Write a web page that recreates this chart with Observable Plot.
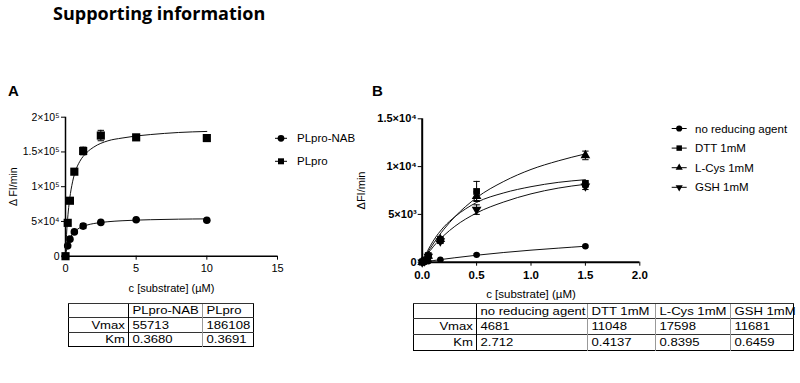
<!DOCTYPE html>
<html><head><meta charset="utf-8">
<script src="https://cdn.jsdelivr.net/npm/d3@7"></script>
<script src="https://cdn.jsdelivr.net/npm/@observablehq/plot@0.6"></script>
<style>
body{margin:0;width:800px;height:383px;position:relative;background:#fff;overflow:hidden;font-family:"Liberation Sans",Arial,sans-serif;color:#000}
.abs{position:absolute}
#title{left:53px;top:4px;font-family:"Open Sans",Lato,sans-serif;font-weight:700;font-size:18px;line-height:1;white-space:nowrap}
.plabel{font-weight:700;font-size:15px;line-height:1}
table.kin{position:absolute;border-collapse:collapse;table-layout:fixed;border:1.6px solid #000;font-size:11.3px}
table.kin td{padding:0;height:14px;line-height:13px;border-top:1px solid #333;border-left:1px solid #999;white-space:nowrap;overflow:visible}
table.kin tr:first-child td{border-top:none}
table.kin td:first-child{border-left:none;text-align:right;padding-right:3px}
table.kin td:nth-child(2){border-left:1.6px solid #000}
table.kin td span{display:inline-block;transform:scaleX(1.16);transform-origin:left center;padding-left:3px}
table.kin td:first-child span{transform-origin:right center;padding-left:0}
#chartB g[aria-label="x-axis tick label"] text, #chartB g[aria-label="y-axis tick label"] text{font-weight:bold}
#chartB g[aria-label="x-axis label"], #chartB g[aria-label="y-axis label"], #chartB g[aria-label="x-axis label"] text, #chartB g[aria-label="y-axis label"] text{font-weight:normal}
</style></head>
<body>
<div id="title" class="abs">Supporting information</div>
<div class="abs plabel" style="left:8px;top:83px">A</div>
<div class="abs plabel" style="left:372px;top:83px">B</div>
<div id="chartA" class="abs" style="left:0;top:100px"></div>
<div id="chartB" class="abs" style="left:380px;top:100px"></div>
<svg id="legA" class="abs" style="left:268px;top:125px" width="100" height="50"></svg>
<svg id="legB" class="abs" style="left:665px;top:118px" width="135" height="80"></svg>
<script>
// ---------- Panel A data ----------
const xA = [0, 0.156, 0.3125, 0.625, 1.25, 2.5, 5, 10];
const nabMean = [0, 14900, 24500, 35000, 43300, 48600, 52400, 51700];
const nabSD = [400, 1200, 1200, 1800, 3600, 1200, 1000, 900];
const plproMean = [0, 48000, 79800, 121600, 151400, 173600, 171000, 170000];
const plproSD = [400, 1500, 2000, 2500, 5500, 7500, 4000, 5000];
const fitXA = [0, 0.05, 0.1, 0.2, 0.3, 0.5, 0.75, 1, 1.5, 2, 3, 4, 5, 6, 8, 10];
const nabFit = [0, 6600, 12000, 19600, 25000, 32000, 37300, 40700, 44700, 47000, 49600, 51000, 51900, 52500, 53300, 53700];
const plproFit = [0, 22000, 40000, 65000, 83000, 107000, 125000, 136000, 149000, 157000, 166000, 170000, 173000, 175000, 178000, 179500];
const xTicksA = [0, 5, 10, 15];
const yTicksA = [0, 50000, 100000, 150000, 200000];
const yTickLabelsA = ["0", "5×10⁴", "1×10⁵", "1.5×10⁵", "2×10⁵"];
const seriesA = ["PLpro-NAB", "PLpro"];

// ---------- Panel B data ----------
const xB = [0, 0.0185, 0.0556, 0.1667, 0.5, 1.5];
const noneMean = [0, 20, 100, 250, 770, 1675];
const noneSD = [40, 40, 50, 60, 90, 100];
const dttMean = [0, 150, 700, 2330, 7400, 8200];
const dttSD = [60, 100, 200, 300, 1050, 350];
const cysMean = [0, 130, 650, 2400, 6900, 11170];
const cysSD = [60, 100, 150, 250, 450, 450];
const gshMean = [0, 120, 600, 2200, 5500, 7950];
const gshSD = [60, 100, 150, 250, 500, 350];
const fitXB = [0, 0.05, 0.1, 0.2, 0.3, 0.5, 0.75, 1, 1.25, 1.5];
const noneFit = [0, 85, 165, 320, 465, 730, 1015, 1260, 1470, 1670];
const dttFit = [0, 1200, 2200, 3700, 4750, 6250, 7250, 7900, 8350, 8630];
const cysFit = [0, 1000, 1900, 3450, 4750, 6750, 8450, 9700, 10600, 11330];
const gshFit = [0, 850, 1600, 2800, 3750, 5150, 6300, 7150, 7750, 8150];
const xTicksB = [0, 0.5, 1, 1.5, 2];
const xTickLabelsB = ["0.0", "0.5", "1.0", "1.5", "2.0"];
const yTicksB = [0, 5000, 10000, 15000];
const yTickLabelsB = ["0", "5×10³", "1×10⁴", "1.5×10⁴"];
const seriesB = ["no reducing agent", "DTT 1mM", "L-Cys 1mM", "GSH 1mM"];

// ---------- Tables ----------
const tabAHeader = ["", "PLpro-NAB", "PLpro"];
const tabARows = [["Vmax", "55713", "186108"], ["Km", "0.3680", "0.3691"]];
const tabBHeader = ["", "no reducing agent", "DTT 1mM", "L-Cys 1mM", "GSH 1mM"];
const tabBRows = [["Vmax", "4681", "11048", "17598", "11681"], ["Km", "2.712", "0.4137", "0.8395", "0.6459"]];

const capSym = {draw(ctx) { ctx.moveTo(-3.2, 0); ctx.lineTo(3.2, 0); }};

function seriesMarks(xs, mean, sd, fitX, fit, symbol, r, rotate) {
  const pts = xs.map((x, i) => ({x, y: mean[i], lo: mean[i] - sd[i], hi: mean[i] + sd[i]}));
  const line = fitX.map((x, i) => ({x, y: fit[i]}));
  return [
    Plot.line(line, {x: "x", y: "y", stroke: "#111", strokeWidth: 1, curve: "monotone-x"}),
    Plot.ruleX(pts, {x: "x", y1: "lo", y2: "hi", stroke: "#000", strokeWidth: 1}),
    Plot.dot(pts, {x: "x", y: "hi", symbol: capSym, fill: "none", stroke: "#000", strokeWidth: 1}),
    Plot.dot(pts, {x: "x", y: "lo", symbol: capSym, fill: "none", stroke: "#000", strokeWidth: 1}),
    Plot.dot(pts, {x: "x", y: "y", symbol, r, fill: "#000", stroke: "none", rotate: rotate || 0})
  ];
}

const chartA = Plot.plot({
  width: 300, height: 200,
  marginLeft: 65, marginRight: 23, marginTop: 16.7, marginBottom: 44.3,
  style: {fontFamily: "'Liberation Sans', Arial, sans-serif", fontSize: "10.5px", background: "transparent", overflow: "visible"},
  x: {domain: [0, 15]},
  y: {domain: [0, 200000]},
  marks: [
    Plot.axisX(xTicksA, {tickSize: 4, tickPadding: 4, tickFormat: d => String(d), label: "c [substrate] (µM)", labelAnchor: "center", labelOffset: 36, labelArrow: "none", fontSize: 11}),
    Plot.axisY(yTicksA, {tickSize: 4, tickPadding: 2, tickFormat: (d, i) => yTickLabelsA[i], label: "Δ FI/min", labelAnchor: "center", labelOffset: 56, labelArrow: "none", fontSize: 10.5}),
    Plot.ruleX([0], {stroke: "#000", strokeWidth: 1.5}),
    Plot.ruleY([0], {stroke: "#000", strokeWidth: 1.5}),
    ...seriesMarks(xA, nabMean, nabSD, fitXA, nabFit, "circle", 3.8),
    ...seriesMarks(xA, plproMean, plproSD, fitXA, plproFit, "square", 4.6)
  ]
});
document.getElementById("chartA").append(chartA);

const chartB = Plot.plot({
  width: 280, height: 200,
  marginLeft: 41.7, marginRight: 20.7, marginTop: 18.3, marginBottom: 38.3,
  style: {fontFamily: "'Liberation Sans', Arial, sans-serif", fontSize: "10.5px", background: "transparent", overflow: "visible"},
  x: {domain: [0, 2]},
  y: {domain: [0, 15000]},
  marks: [
    Plot.axisX(xTicksB, {tickSize: 4, tickPadding: 5, tickFormat: (d, i) => xTickLabelsB[i], label: "c [substrate] (µM)", labelAnchor: "center", labelOffset: 36, labelArrow: "none", fontSize: 11.5}),
    Plot.axisY(yTicksB, {tickSize: 4, tickPadding: 1.5, tickFormat: (d, i) => yTickLabelsB[i], label: "ΔFI/min", labelAnchor: "center", labelOffset: 65, labelArrow: "none", fontSize: 11}),
    Plot.ruleX([0], {stroke: "#000", strokeWidth: 2}),
    Plot.ruleY([0], {stroke: "#000", strokeWidth: 2}),
    ...seriesMarks(xB, noneMean, noneSD, fitXB, noneFit, "circle", 3.2),
    ...seriesMarks(xB, gshMean, gshSD, fitXB, gshFit, "triangle", 3.6, 180),
    ...seriesMarks(xB, cysMean, cysSD, fitXB, cysFit, "triangle", 3.6),
    ...seriesMarks(xB, dttMean, dttSD, fitXB, dttFit, "square", 3.8)
  ]
});
document.getElementById("chartB").append(chartB);

// ---------- Legends ----------
function drawLegend(id, labels, syms, rots, sizes, y0, gap, lineX1, lineX2, textX, fs) {
  const svg = d3.select("#" + id);
  labels.forEach((lab, i) => {
    const y = y0 + i * gap;
    const cx = (lineX1 + lineX2) / 2;
    svg.append("line").attr("x1", lineX1).attr("x2", lineX2).attr("y1", y).attr("y2", y).attr("stroke", "#000").attr("stroke-width", 1);
    svg.append("path").attr("d", d3.symbol(syms[i], sizes[i])()).attr("transform", `translate(${cx},${y}) rotate(${rots[i]})`).attr("fill", "#000");
    svg.append("text").attr("x", textX).attr("y", y).attr("dy", "0.36em").attr("font-size", fs).attr("font-family", "'Liberation Sans', Arial, sans-serif").text(lab);
  });
}
drawLegend("legA", seriesA, [d3.symbolCircle, d3.symbolSquare], [0, 0], [36, 36], 13.3, 23, 7, 19, 29, 11.5);
drawLegend("legB", seriesB, [d3.symbolCircle, d3.symbolSquare, d3.symbolTriangle, d3.symbolTriangle], [0, 0, 0, 180], [30, 30, 22, 22], 10.5, 19.6, 6.7, 21.7, 30, 11.5);

// ---------- Tables ----------
function buildTable(header, rows, left, top, widths, rowH) {
  const t = document.createElement("table");
  t.className = "kin";
  t.style.left = left + "px"; t.style.top = top + "px";
  t.style.width = widths.reduce((a, b) => a + b, 0) + "px";
  const cg = document.createElement("colgroup");
  widths.forEach(w => { const c = document.createElement("col"); c.style.width = w + "px"; cg.append(c); });
  t.append(cg);
  [header, ...rows].forEach(r => {
    const tr = document.createElement("tr");
    r.forEach(v => { const td = document.createElement("td"); td.style.height = rowH + "px"; const s = document.createElement("span"); s.textContent = v; td.append(s); tr.append(td); });
    t.append(tr);
  });
  document.body.append(t);
}
buildTable(tabAHeader, tabARows, 67.7, 302.7, [60.6, 73.4, 51.6], 13.6);
buildTable(tabBHeader, tabBRows, 413.3, 302.7, [62.7, 110.7, 68.3, 75, 62.7], 14.8);
</script>
</body></html>
